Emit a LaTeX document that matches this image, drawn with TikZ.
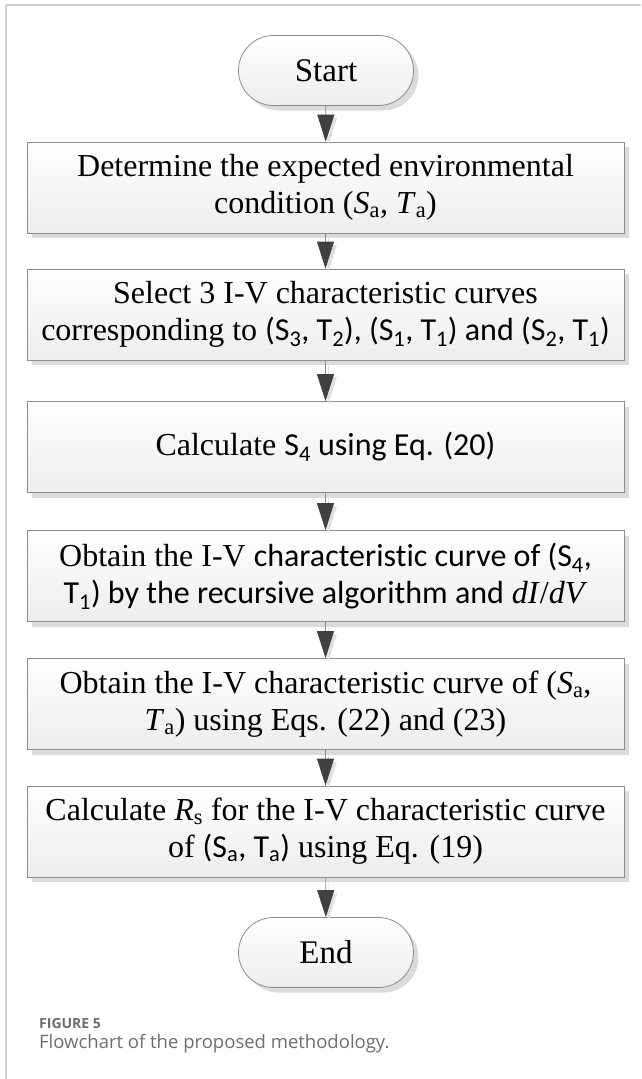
\documentclass[tikz,border=0pt]{standalone}
\usepackage{fontspec}
\setmainfont{Liberation Serif}
\newfontfamily\sansf[Ligatures=CommonOff]{Carlito}
\newfontfamily\capf{Open Sans}
\usepackage{tikz}
\usetikzlibrary{shapes.misc,shadows,arrows.meta}

\definecolor{boxline}{HTML}{8C8C8C}
\definecolor{headfill}{HTML}{404040}
\definecolor{capgray}{HTML}{6E6E6E}
\definecolor{framegray}{HTML}{D2D2D2}

\tikzset{
  flowshade/.style={draw=boxline, line width=0.8pt, top color=white, bottom color=black!7,
    drop shadow={shadow xshift=5pt, shadow yshift=-5pt, fill=black!14, opacity=1}},
  stepbox/.style={rectangle, flowshade, minimum width=597pt, minimum height=91pt,
    inner sep=0pt, align=center, font=\fontsize{32}{37}\selectfont},
  termbox/.style={rounded rectangle, flowshade, minimum width=175pt, minimum height=70pt,
    inner sep=0pt, font=\fontsize{33}{37}\selectfont},
  flowarrow/.style={draw=boxline, line width=0.8pt,
    preaction={draw=black!12, -{Triangle[length=27pt,width=17pt,color=black!12]},
      transform canvas={shift={(3pt,-3pt)}}},
    -{Triangle[length=27pt,width=17pt,color=headfill]}}
}

\begin{document}
\begin{tikzpicture}[x=1pt, y=-1pt]
    \useasboundingbox (0,0) rectangle (641,1079);

    % Frame
    \draw[framegray, line width=1.5pt] (6,5) -- (641,5);
    \draw[framegray, line width=1.5pt] (6,5) -- (6,1079);

    % Start / End
    \node[termbox] (start) at (326,70.5) {Start};
    \node[termbox] (stop) at (326,952.5) {End};

    % Steps
    \node[stepbox] (determine) at (325.5,187.5)
        {Determine the expected environmental\\condition (\textit{S}\textsubscript{a}, \textit{T}\textsubscript{a})};
    \node[stepbox] (select) at (325.5,314.5)
        {Select 3 I-V characteristic curves\\corresponding to {\sansf (S\textsubscript{3}, T\textsubscript{2}), (S\textsubscript{1}, T\textsubscript{1}) and (S\textsubscript{2}, T\textsubscript{1})}};
    \node[stepbox] (calcsfour) at (325.5,447)
        {Calculate {\sansf S\textsubscript{4} using Eq. (20)}};
    \node[stepbox] (curvesfour) at (325.5,576)
        {Obtain the I-V {\sansf characteristic curve of (S\textsubscript{4},}\\{\sansf T\textsubscript{1}) by the recursive algorithm and} \textit{dI}/\textit{dV}};
    \node[stepbox] (curvesa) at (325.5,704)
        {Obtain the I-V characteristic curve of (\textit{S}\textsubscript{a},\\\textit{T}\textsubscript{a}) using Eqs. (22) and (23)};
    \node[stepbox] (calcrs) at (325.5,831.5)
        {Calculate \textit{R}\textsubscript{s} for the I-V characteristic curve\\of {\sansf (S\textsubscript{a}, T\textsubscript{a})} using Eq. (19)};

    % Arrows
    \draw[flowarrow] (start) -- (determine);
    \draw[flowarrow] (determine) -- (select);
    \draw[flowarrow] (select) -- (calcsfour);
    \draw[flowarrow] (calcsfour) -- (curvesfour);
    \draw[flowarrow] (curvesfour) -- (curvesa);
    \draw[flowarrow] (curvesa) -- (calcrs);
    \draw[flowarrow] (calcrs) -- (stop);

    % Caption
    \node[anchor=west, inner sep=0pt, text=capgray, font=\capf\bfseries\fontsize{14}{16}\selectfont] (figlabel) at (39,1023) {FIGURE 5};
    \node[anchor=west, inner sep=0pt, text=capgray, font=\capf\fontsize{18.5}{21}\selectfont] (figtitle) at (39,1044) {Flowchart of the proposed methodology.};
\end{tikzpicture}
\end{document}
